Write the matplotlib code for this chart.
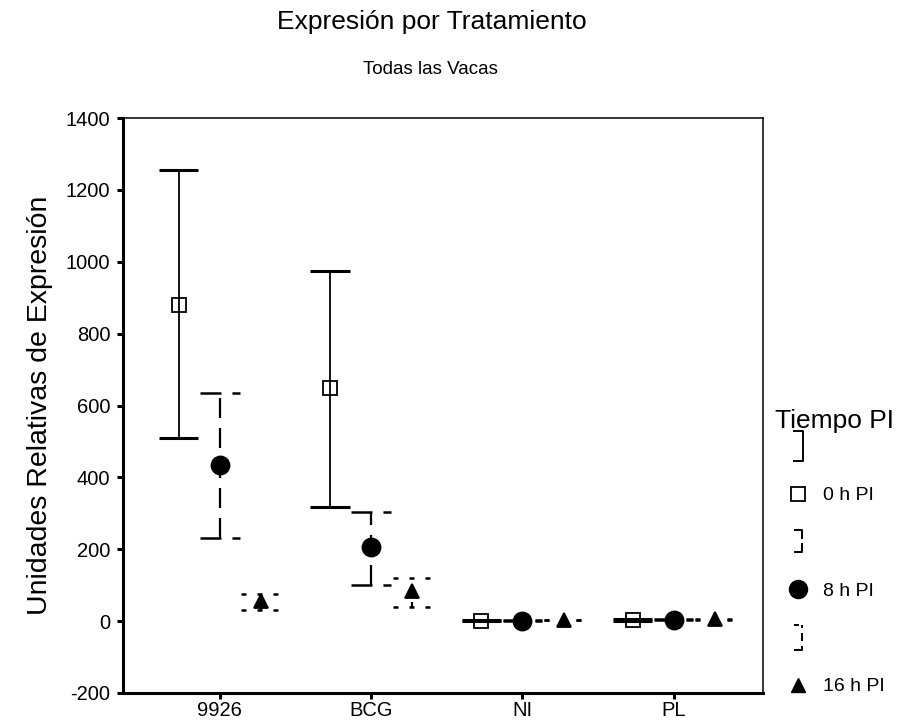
import numpy as np
import matplotlib as mpl
mpl.use('Agg')
import matplotlib.pyplot as plt
from matplotlib.lines import Line2D
from matplotlib.path import Path

plt.rcParams['font.family'] = ['Liberation Sans', 'DejaVu Sans']
plt.rcParams['lines.scale_dashes'] = False
plt.rcParams['axes.unicode_minus'] = False

# data
categories = ['9926', 'BCG', 'NI', 'PL']
series = ['0 h PI', '8 h PI', '16 h PI']

mean_0h = [880, 650, 1, 4]
low_0h = [510, 318, 0, 1]
high_0h = [1255, 975, 2, 7]

mean_8h = [435, 205, 1, 4]
low_8h = [230, 100, 0, 2]
high_8h = [635, 305, 2, 6]

mean_16h = [55, 85, 3, 5]
low_16h = [30, 40, 2, 4]
high_16h = [75, 120, 4, 6]

y_ticks = [-200, 0, 200, 400, 600, 800, 1000, 1200, 1400]

offset = 0.272      # group spacing between the three times
cap_half = 0.13     # half cap width in category units

styles = [
    # marker, markersize, face, vertical dash, cap dash
    ('s', 10, 'none', None, None),
    ('o', 13, 'black', (0, (14.4, 7.2)), (0, (15.1, 7.9, 5.8, 20))),
    ('^', 10, 'black', (0, (3.6, 7.9)), (0, (3.6, 7.9))),
]
means = [mean_0h, mean_8h, mean_16h]
lows = [low_0h, low_8h, low_16h]
highs = [high_0h, high_8h, high_16h]

fig = plt.figure(figsize=(9.1, 7.26), dpi=100)
ax = fig.add_axes([123 / 910, 33 / 726, 640 / 910, 575 / 726])

x = np.arange(len(categories))
for i, (mk, ms, face, vdash, cdash) in enumerate(styles):
    xs = x + (i - 1) * offset
    m = np.array(means[i])
    lo = np.array(lows[i])
    hi = np.array(highs[i])
    if vdash is None:
        ax.vlines(xs, lo, hi, color='black', lw=1.3, zorder=2)
        ax.hlines(lo, xs - cap_half, xs + cap_half, color='black', lw=2.2, zorder=2)
        ax.hlines(hi, xs - cap_half, xs + cap_half, color='black', lw=2.2, zorder=2)
    else:
        ax.vlines(xs, lo, hi, color='black', lw=1.6, linestyles=[vdash], zorder=2)
        ax.hlines(lo, xs - cap_half, xs + cap_half, color='black', lw=1.8,
                  linestyles=[cdash], zorder=2)
        ax.hlines(hi, xs - cap_half, xs + cap_half, color='black', lw=1.8,
                  linestyles=[cdash], zorder=2)
    ax.plot(xs, m, ls='none', marker=mk, ms=ms, mfc=face, mec='black',
            mew=1.3, zorder=3)

ax.set_xlim(-0.64, 3.59)
ax.set_ylim(-200, 1400)
ax.set_xticks(x)
ax.set_xticklabels(categories)
ax.set_yticks(y_ticks)
ax.tick_params(axis='both', direction='out', length=4, width=2.2,
               labelsize=14.5, color='black')
ax.tick_params(axis='y', pad=5)
ax.tick_params(axis='x', pad=2)
for side in ['left', 'bottom']:
    ax.spines[side].set_linewidth(2.2)
for side in ['top', 'right']:
    ax.spines[side].set_linewidth(1.1)

ax.set_ylabel('Unidades Relativas de Expresión', fontsize=20.5, labelpad=9)

fig.text(432 / 910, 1 - 22 / 726, 'Expresión por Tratamiento', ha='center',
         va='center', fontsize=19)
fig.text(430 / 910, 1 - 70 / 726, 'Todas las Vacas', ha='center',
         va='center', fontsize=13.5)

# legend markers: bracket shapes for the error bars
bracket_solid = Path([(-0.35, 1), (0.35, 1), (0.35, -1), (-0.35, -1)],
                     [Path.MOVETO, Path.LINETO, Path.LINETO, Path.LINETO])
bracket_mid = Path([(-0.35, 1), (0.35, 1), (0.35, 0.15),
                    (0.35, -0.15), (0.35, -1), (-0.35, -1)],
                   [Path.MOVETO, Path.LINETO, Path.LINETO,
                    Path.MOVETO, Path.LINETO, Path.LINETO])
bracket_dash = Path([(-0.35, 1), (0.05, 1), (0.35, 1), (0.35, 0.7),
                     (0.35, 0.3), (0.35, -0.3), (0.35, -0.7), (0.35, -1), (-0.35, -1)],
                    [Path.MOVETO, Path.LINETO, Path.MOVETO, Path.LINETO,
                     Path.MOVETO, Path.LINETO, Path.MOVETO, Path.LINETO, Path.LINETO])

handles = [
    Line2D([], [], ls='none', marker=bracket_solid, ms=22, mec='black', mfc='none', mew=1.4),
    Line2D([], [], ls='none', marker='s', ms=10, mfc='none', mec='black', mew=1.3),
    Line2D([], [], ls='none', marker=bracket_mid, ms=16, mec='black', mfc='none', mew=1.4),
    Line2D([], [], ls='none', marker='o', ms=13, mfc='black', mec='black'),
    Line2D([], [], ls='none', marker=bracket_dash, ms=18, mec='black', mfc='none', mew=1.4),
    Line2D([], [], ls='none', marker='^', ms=10, mfc='black', mec='black'),
]
labels = ['', series[0], '', series[1], '', series[2]]
fig.text(775 / 910, 1 - 421 / 726, 'Tiempo PI', ha='left', va='center', fontsize=19)
fig.legend(handles, labels, loc='upper left', bbox_to_anchor=(788 / 910, 1 - 439 / 726),
           bbox_transform=fig.transFigure, frameon=False, fontsize=14,
           handlelength=1.0, handletextpad=0.8, labelspacing=1.55,
           borderpad=0, borderaxespad=0)

fig.savefig('out.png', dpi=100)
